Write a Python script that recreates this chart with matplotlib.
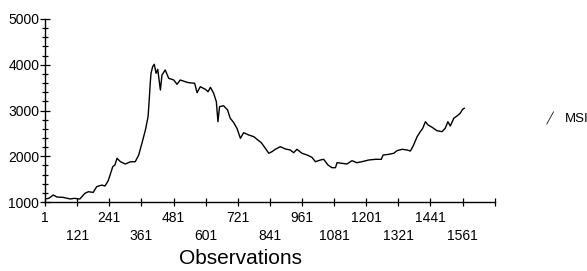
import matplotlib.pyplot as plt
from matplotlib.legend_handler import HandlerBase
from matplotlib.lines import Line2D

plt.rcParams["font.family"] = ["Liberation Sans", "DejaVu Sans"]

# values
obs = [1, 15, 32, 45, 70, 95, 110, 131, 150, 163, 181, 194, 213, 225, 237, 246,
       254, 262, 270, 283, 301, 320, 338, 351, 363, 376, 386, 391, 394, 397, 403,
       409, 416, 422, 432, 438, 450, 463, 482, 494, 506, 531, 538, 560, 569, 581,
       600, 610, 619, 631, 641, 647, 653, 668, 683, 693, 706, 718, 731, 743, 762,
       781, 793, 809, 824, 837, 849, 861, 880, 899, 917, 930, 942, 961, 980, 998,
       1011, 1030, 1042, 1058, 1073, 1086, 1092, 1110, 1129, 1148, 1166, 1185,
       1210, 1235, 1257, 1264, 1285, 1304, 1316, 1335, 1353, 1366, 1378, 1391,
       1403, 1412, 1422, 1432, 1447, 1465, 1484, 1496, 1506, 1515, 1528, 1540,
       1552, 1561, 1567]
msi = [1066, 1080, 1153, 1110, 1100, 1066, 1080, 1066, 1190, 1225, 1210, 1335,
       1370, 1350, 1465, 1627, 1772, 1809, 1955, 1880, 1830, 1880, 1880, 2027,
       2283, 2574, 2865, 3302, 3595, 3813, 3958, 4010, 3813, 3900, 3448, 3776,
       3886, 3704, 3667, 3573, 3667, 3617, 3608, 3595, 3390, 3520, 3463, 3411,
       3507, 3376, 3193, 2755, 3083, 3105, 3011, 2830, 2734, 2611, 2392, 2515,
       2465, 2428, 2370, 2296, 2174, 2065, 2100, 2152, 2209, 2159, 2137, 2078,
       2152, 2065, 2027, 1977, 1881, 1918, 1933, 1809, 1750, 1750, 1859, 1846,
       1831, 1903, 1859, 1881, 1918, 1933, 1933, 2027, 2042, 2065, 2122, 2152,
       2137, 2115, 2246, 2428, 2537, 2611, 2755, 2683, 2633, 2559, 2537, 2611,
       2755, 2661, 2830, 2880, 2939, 3026, 3048]

row1_ticks = [1, 241, 481, 721, 961, 1201, 1441, 1681]
row1_labels = ["1", "241", "481", "721", "961", "1201", "1441", ""]
row2_ticks = [121, 361, 601, 841, 1081, 1321, 1561]
row2_labels = ["121", "361", "601", "841", "1081", "1321", "1561"]
y_ticks = [1000, 2000, 3000, 4000, 5000]


class DiagHandler(HandlerBase):
    # legend key drawn as a short slanted stroke
    def create_artists(self, legend, orig_handle, xdescent, ydescent, width, height, fontsize, trans):
        line = Line2D([0.25 * width - xdescent, 0.75 * width - xdescent],
                      [-ydescent - 0.2 * height, 1.1 * height - ydescent],
                      color="#333333", lw=0.7)
        line.set_transform(trans)
        return [line]


fig = plt.figure(figsize=(5.87, 2.71), dpi=100)
ax = fig.add_axes([0.0767, 0.2546, 0.7661, 0.6753])

(ln,) = ax.plot(obs, msi, color="black", lw=1.0, label="MSI")

ax.set_xlim(1, 1681)
ax.set_ylim(1000, 5000)
for side in ["top", "right"]:
    ax.spines[side].set_visible(False)
for side in ["left", "bottom"]:
    ax.spines[side].set_linewidth(1.0)

ax.set_yticks(y_ticks)
ax.set_yticks(range(1000, 5001, 200), minor=True)
ax.set_xticks(row1_ticks)
ax.set_xticklabels(row1_labels)
ax.set_xticks(row2_ticks, minor=True)
ax.set_xticklabels(row2_labels, minor=True)

ax.tick_params(axis="y", which="major", direction="inout", length=7.2, width=0.9, pad=0.5, labelsize=10)
ax.tick_params(axis="y", which="minor", direction="inout", length=4.3, width=0.9)
ax.tick_params(axis="x", which="major", direction="inout", length=5.5, width=0.9, pad=4, labelsize=10)
ax.tick_params(axis="x", which="minor", direction="inout", length=5.5, width=0.9, pad=17, labelsize=10)

ax.set_xlabel("Observations", fontsize=15)
ax.xaxis.set_label_coords(0.434, -0.306)
ax.xaxis.label.set_va("center")

fig.legend(handles=[ln], labels=["MSI"], handler_map={ln: DiagHandler()},
           loc="center left", bbox_to_anchor=(0.926, 0.561), frameon=False,
           fontsize=9.5, handlelength=1.0, handletextpad=0.6, borderpad=0, borderaxespad=0)

fig.savefig("out.png", dpi=100)
